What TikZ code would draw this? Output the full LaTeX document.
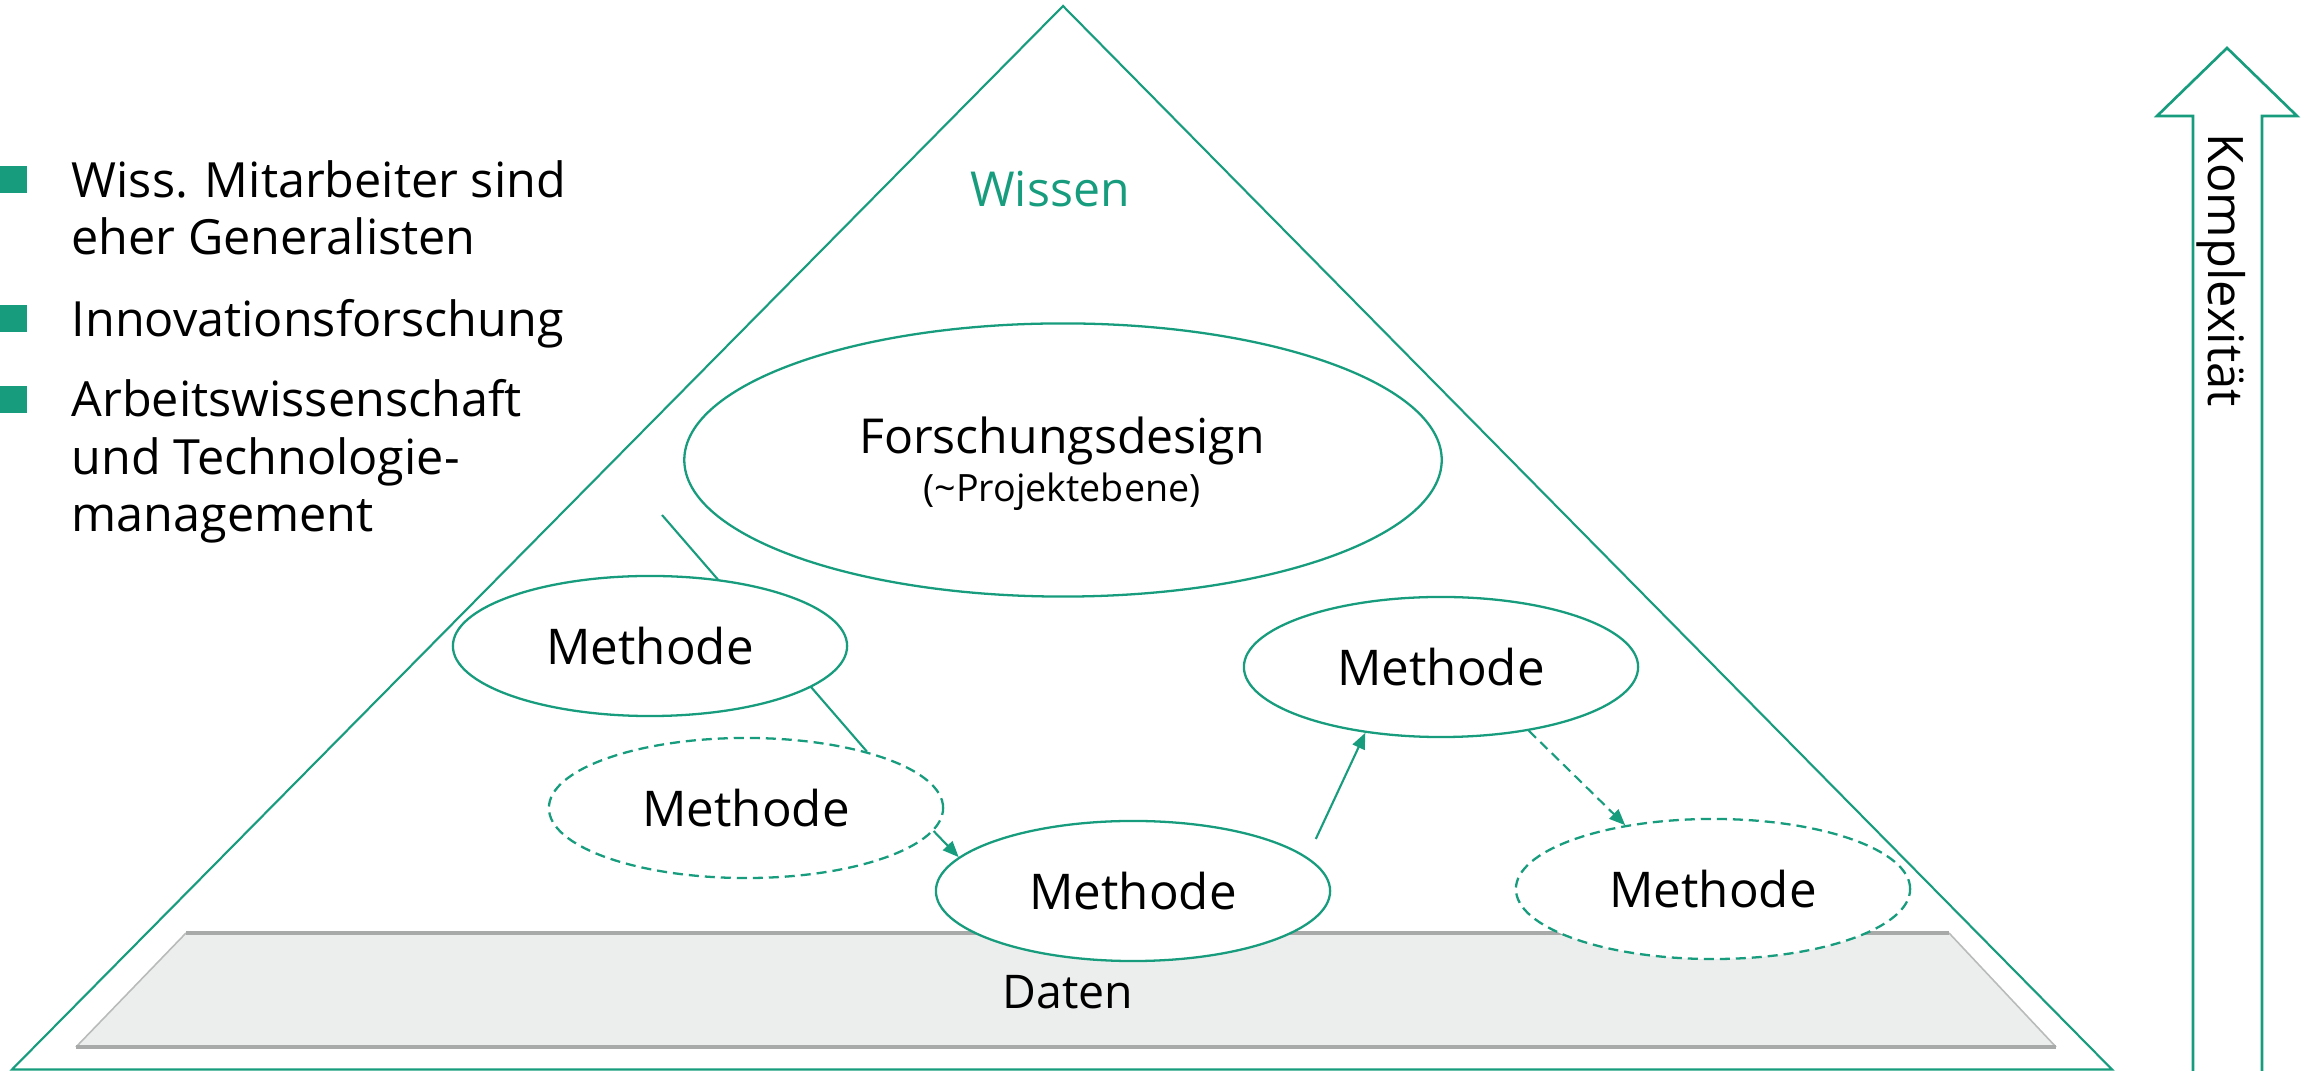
\documentclass[tikz,border=0pt]{standalone}
\usepackage{fontspec}
\setmainfont{Open Sans}
\usetikzlibrary{shapes.geometric,arrows.meta,calc}
\definecolor{fgreen}{HTML}{179C7D}
\definecolor{dfill}{HTML}{ECEEED}
\definecolor{dedge}{HTML}{A7AAA9}
\definecolor{dside}{HTML}{B8BBBA}
\newcommand\fsz[1]{\fontsize{#1}{#1}\selectfont}
\pgfdeclarelayer{bg}
\pgfsetlayers{bg,main}
\begin{document}
\begin{tikzpicture}[x=0.01cm,y=-0.01cm,
  gline/.style={draw=fgreen, line width=0.6pt},
  meth/.style={ellipse, draw=fgreen, line width=0.65pt, fill=white,
    minimum width=3.94cm, minimum height=1.40cm, inner sep=0pt, font=\fsz{14}},
  methd/.style={meth, dash pattern=on 0.1cm off 0.06cm},
  arr/.style={draw=fgreen, line width=0.6pt, -{Triangle[length=0.16cm,width=0.13cm]}},
  bsq/.style={fill=fgreen, minimum size=0.27cm, inner sep=0pt},
  btxt/.style={anchor=base west, inner sep=0pt, font=\fsz{13.8}},
  lbl/.style={anchor=base, inner sep=0pt}
]
\useasboundingbox (0,0) rectangle (2303,1071);

% bullet list
\node[bsq] (sq1) at (13.5,180) {};
\node[bsq] (sq2) at (13.5,319) {};
\node[bsq] (sq3) at (13.5,400) {};
\node[btxt] (b1a) at (71,198) {Wiss. Mitarbeiter sind};
\node[btxt] (b1b) at (71,255) {eher Generalisten};
\node[btxt] (b2) at (71,337) {Innovationsforschung};
\node[btxt] (b3a) at (71,417) {Arbeitswissenschaft};
\node[btxt] (b3b) at (71,475) {und Technologie-};
\node[btxt] (b3c) at (71,532) {management};

% texts in pyramid
\node[lbl, text=fgreen, font=\fsz{13.7}] (wissen) at (1050,207) {Wissen};
\node[ellipse, draw=fgreen, line width=0.65pt, fill=white,
  minimum width=7.57cm, minimum height=2.73cm, inner sep=0pt] (fd) at (1063,460) {};
\node[lbl, font=\fsz{13.7}] (fdt) at (1062,454) {Forschungsdesign};
\node[lbl, font=\fsz{10.7}] (fds) at (1062,502) {(\textasciitilde Projektebene)};

% data layer label
\node[lbl, font=\fsz{13.2}] (daten) at (1068,1009) {Daten};

% methods
\node[meth]  (m1)  at (650,646)  {Methode};
\node[methd] (md1) at (746,808)  {Methode};
\node[meth]  (mb)  at (1133,891) {Methode};
\node[meth]  (mr)  at (1441,667) {Methode};
\node[methd] (mdr) at (1713,889) {Methode};

% arrows between methods
\draw[arr] (md1.-7) -- (mb.169);
\draw[arr, shorten <=0.2cm] (mb.11) -- (mr.-139);
\draw[arr, dash pattern=on 0.1cm off 0.06cm] (mr.-36) -- (mdr.144);

% complexity arrow
\draw[draw=fgreen, line width=0.75pt, fill=white, line join=miter]
  (2193,1075) -- (2193,116) -- (2157,116) -- (2227,48) -- (2297,116)
  -- (2262,116) -- (2262,1075);
\node[inner sep=0pt, rotate=-90, font=\fsz{13.9}] (kompl) at (2221,270) {Komplexität};

\begin{pgfonlayer}{bg}
  % pyramid
  \draw[gline, line join=miter] (12,1069.5) -- (1063,6) -- (2112,1069.5) -- cycle;
  % data trapezoid
  \fill[dfill] (186,933) -- (1949,933) -- (2056,1047) -- (76,1047) -- cycle;
  \draw[dside, line width=0.45pt] (186,933) -- (76,1047);
  \draw[dside, line width=0.45pt] (1949,933) -- (2056,1047);
  \draw[dedge, line width=0.9pt] (186,933) -- (1949,933);
  \draw[dedge, line width=0.9pt] (76,1047) -- (2056,1047);
  % connector line through the first method
  \coordinate (ls) at (662,515);
  \draw[gline] (ls) -- (md1.25.6);
\end{pgfonlayer}
\end{tikzpicture}
\end{document}
